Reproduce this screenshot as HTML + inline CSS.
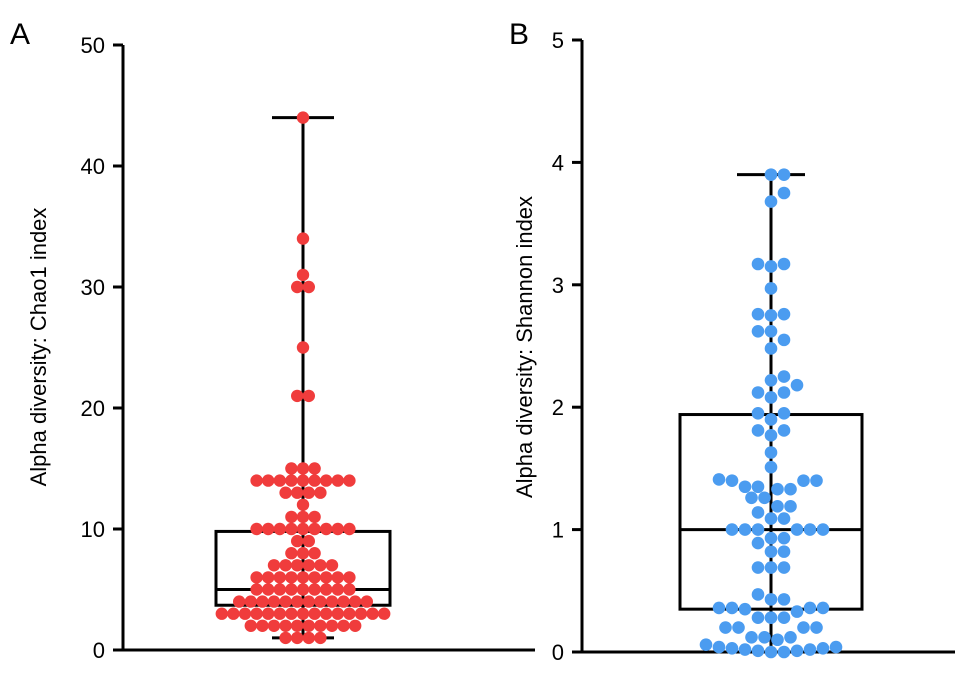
<!DOCTYPE html>
<html><head><meta charset="utf-8"><style>body{margin:0;background:#fff}svg{font-family:"Liberation Sans",sans-serif}</style></head>
<body>
<svg id="c" width="969" height="674" viewBox="0 0 969 674">
<text x="10" y="44" font-size="30">A</text>
<text x="509" y="44" font-size="30">B</text>
<text transform="translate(46,347) rotate(-90)" text-anchor="middle" font-size="22">Alpha diversity: Chao1 index</text>
<text transform="translate(532,347) rotate(-90)" text-anchor="middle" font-size="22">Alpha diversity: Shannon index</text>
<g id="ga"></g><g id="gb"></g>
</svg>
<script>
// Panel A data (Chao1): integer values and counts
const chaoValues=[1,2,3,4,5,6,7,8,9,10,11,12,13,14,15,21,25,30,31,34,44];
const chaoCounts=[4,10,15,12,9,9,6,3,2,9,3,1,4,9,3,2,1,2,1,1,1];
const chaoBox=[1,3.7,5,9.8,44]; // min,q1,median,q3,max
const chaoTicks=[0,10,20,30,40,50];
// Panel B data (Shannon)
const shannonValues=[3.9,3.9,3.75,3.68,3.17,3.17,3.15,2.97,2.76,2.76,2.75,2.62,2.62,2.55,2.48,2.25,2.22,2.18,2.12,2.12,2.08,1.95,1.95,1.9,1.81,1.81,1.77,1.63,1.51,1.41,1.4,1.4,1.4,1.35,1.35,1.33,1.33,1.26,1.26,1.19,1.19,1.14,1.09,1.09,1.0,1.0,1.0,1.0,1.0,1.0,0.93,0.93,0.89,0.82,0.82,0.69,0.69,0.69,0.47,0.43,0.43,0.36,0.36,0.36,0.36,0.35,0.33,0.28,0.28,0.28,0.2,0.2,0.2,0.2,0.12,0.12,0.12,0.1,0.06,0.04,0.04,0.03,0.02,0.02,0.01,0.01,0.0,0.0,0.03];
const shannonBox=[0,0.35,1.0,1.94,3.9];
const shannonTicks=[0,1,2,3,4,5];
const NS='http://www.w3.org/2000/svg';
function mk(p,t,a){const e=document.createElementNS(NS,t);for(const k in a)e.setAttribute(k,a[k]);p.appendChild(e);return e;}
function panel(g,o,ticks,box,drawDots){
  const y=v=>o.y0-(v-ticks[0])/(ticks[ticks.length-1]-ticks[0])*(o.y0-o.y1);
  let e=mk(g,'line',{x1:o.ax,x2:o.ax,y1:o.y1,y2:o.y0+1.5,stroke:'#000','stroke-width':3});
  
  e=mk(g,'line',{x1:o.ax-6,x2:o.xe,y1:o.y0,y2:o.y0,stroke:'#000','stroke-width':3});
  
  ticks.forEach(t=>{const yy=y(t);
    e=mk(g,'line',{x1:o.ax-10,x2:o.ax,y1:yy,y2:yy,stroke:'#000','stroke-width':3});
    
    e=mk(g,'text',{x:o.ax-18,y:yy+8,'text-anchor':'end','font-size':22});e.textContent=t;
    });
  const cx=o.cx,hw=o.hw;
  e=mk(g,'line',{x1:cx,x2:cx,y1:y(box[0]),y2:y(box[4]),stroke:'#000','stroke-width':3});
  
  [box[0],box[4]].forEach(v=>{e=mk(g,'line',{x1:cx-o.cap,x2:cx+o.cap,y1:y(v),y2:y(v),stroke:'#000','stroke-width':3});
    });
  e=mk(g,'rect',{x:cx-hw,y:y(box[3]),width:2*hw,height:y(box[1])-y(box[3]),fill:'none',stroke:'#000','stroke-width':3});
  
  e=mk(g,'line',{x1:cx-hw,x2:cx+hw,y1:y(box[2]),y2:y(box[2]),stroke:'#000','stroke-width':3});
  
  drawDots(y);
}
const ga=document.getElementById('ga'),gb=document.getElementById('gb');
panel(ga,{ax:123,xe:535,y0:650,y1:45,cx:303,hw:87,cap:31},chaoTicks,chaoBox,y=>{
  chaoValues.forEach((v,i)=>{const n=chaoCounts[i];
    for(let k=0;k<n;k++){const x=303+(k-(n-1)/2)*11.6;
      const d=mk(ga,'circle',{cx:x,cy:y(v),r:6.2,fill:'#f03c3c'});
      }});
});
panel(gb,{ax:582,xe:955,y0:652,y1:40,cx:771,hw:91,cap:34},shannonTicks,shannonBox,y=>{
  const placed=[];const D=12.5;
  [...shannonValues].sort((a,b)=>a-b).forEach(v=>{const yy=y(v);let best=null;
    for(let s=0;s<40&&best===null;s++){for(const sg of (s?[1,-1]:[1])){const x=771+sg*s*6.5;
      if(placed.every(p=>Math.hypot(p[0]-x,p[1]-yy)>=D)){best=x;break;}}}
    placed.push([best,yy]);
    const d=mk(gb,'circle',{cx:best,cy:yy,r:6.3,fill:'#4b9cf0'});
    });
});
</script>
</body></html>
